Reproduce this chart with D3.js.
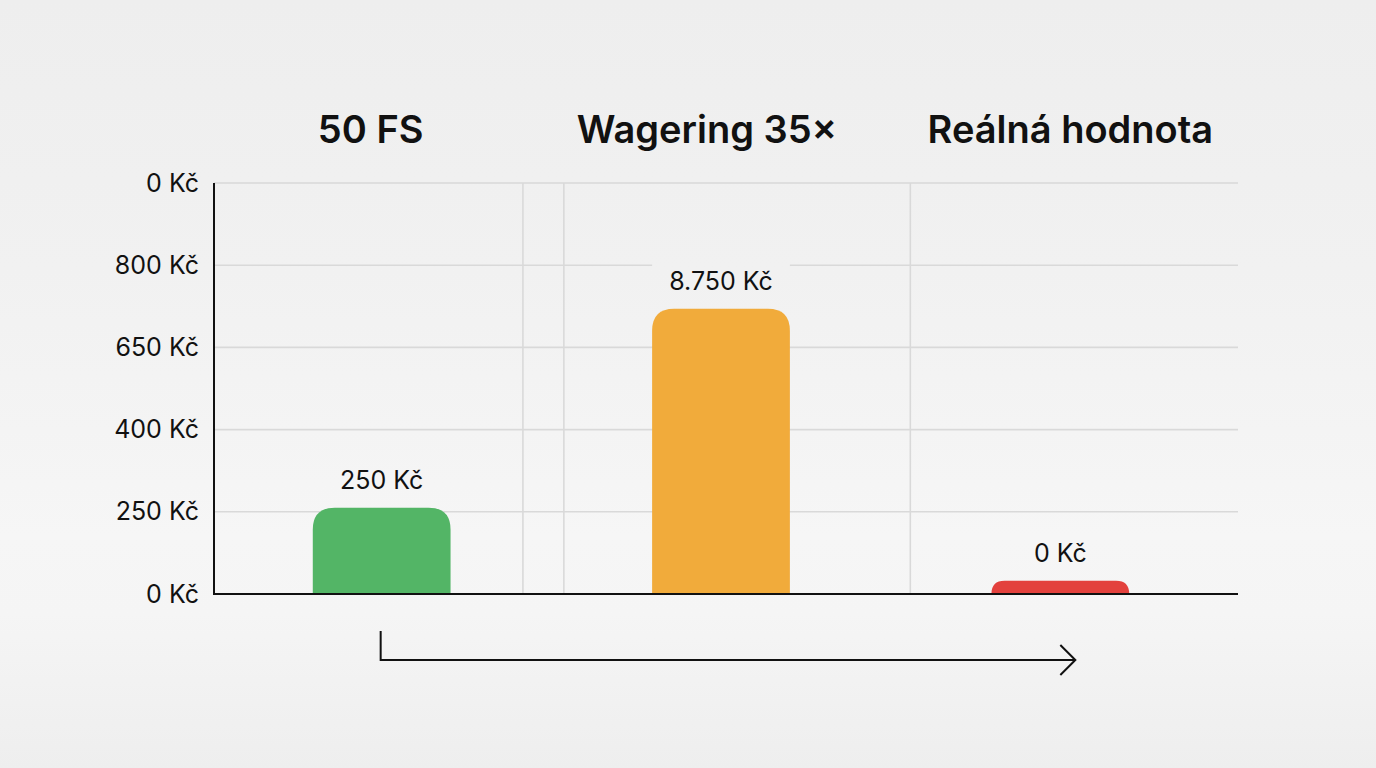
<!DOCTYPE html>
<html><head><meta charset="utf-8">
<script src="https://cdn.jsdelivr.net/npm/d3@7"></script>
<style>html,body{margin:0;padding:0;overflow:hidden;}svg{display:block;}</style>
</head><body>
<svg id="chart" width="1376" height="768"></svg>
<script>
// ---- data ----
const categories = ["50 FS", "Wagering 35×", "Reálná hodnota"];
const barValues = [1.05, 3.47, 0.16];            // bar heights in axis-step units
const barLabels = ["250 Kč", "8.750 Kč", "0 Kč"];
const tickValues = [0, 1, 2, 3, 4, 5];
const tickLabels = ["0 Kč", "250 Kč", "400 Kč", "650 Kč", "800 Kč", "0 Kč"];
const verticalGrid = [0.905, 1.025, 2.04];        // in category-slot units
const barColors = ["#53b566", "#f1ab3b", "#e3413d"];

const W = 1376, H = 768;
const svg = d3.select("#chart");
const m = {left: 214, right: 1238, top: 183, bottom: 594};
const FONT = "Inter, 'Noto Sans', sans-serif";

// background
const defs = svg.append("defs");
const bg = defs.append("linearGradient").attr("id","bg").attr("gradientUnits","userSpaceOnUse")
  .attr("x1",0).attr("y1",0).attr("x2",0).attr("y2",H);
[[0,"#eeeeee"],[0.35,"#f1f1f1"],[0.7,"#f6f6f6"],[0.8,"#f5f5f5"],[1,"#eeeeee"]].forEach(s=>bg.append("stop").attr("offset",s[0]).attr("stop-color",s[1]));
svg.append("rect").attr("width",W).attr("height",H).attr("fill","url(#bg)");

// scales
const y = d3.scaleLinear().domain([0,5]).range([m.bottom, m.top]);
const x = d3.scaleBand().domain(categories).range([212, 1230]).paddingInner(0.594).paddingOuter(0.297);
const xs = d3.scaleLinear().domain([0,3]).range([m.left, m.right]);

// horizontal grid
svg.append("g").selectAll("line").data(tickValues.slice(1)).join("line")
  .attr("x1", m.left).attr("x2", m.right)
  .attr("y1", d=>y(d)).attr("y2", d=>y(d))
  .attr("stroke","#d9d9d9").attr("stroke-width",1.6);
// vertical grid
svg.append("g").selectAll("line").data(verticalGrid).join("line")
  .attr("x1", d=>xs(d)).attr("x2", d=>xs(d))
  .attr("y1", m.top).attr("y2", m.bottom)
  .attr("stroke","#d9d9d9").attr("stroke-width",1.6);

// y axis with custom labels
const yAxis = d3.axisLeft(y).tickValues(tickValues).tickSize(0).tickPadding(15)
  .tickFormat((d,i)=>tickLabels[i]);
const gy = svg.append("g").attr("transform",`translate(${m.left},0)`).call(yAxis);
gy.select(".domain").remove();
gy.selectAll("text").attr("font-family",FONT)
  .attr("font-size",25).attr("fill","#111");

// bars with rounded tops
function topRounded(x0, yTop, w, h, r){
  r = Math.min(r, h, w/2);
  return `M${x0},${yTop+h}V${yTop+r}Q${x0},${yTop} ${x0+r},${yTop}H${x0+w-r}Q${x0+w},${yTop} ${x0+w},${yTop+r}V${yTop+h}Z`;
}
const bars = categories.map((c,i)=>({c, v: barValues[i], label: barLabels[i], color: barColors[i]}));
svg.append("g").selectAll("path").data(bars).join("path")
  .attr("d", d=>topRounded(x(d.c), y(d.v), x.bandwidth(), y(0)-y(d.v), 22))
  .attr("fill", d=>d.color);

// value labels with background knock-out
const lg = svg.append("g").selectAll("g").data(bars).join("g");
lg.append("rect")
  .attr("x", d=>x(d.c)).attr("width", x.bandwidth())
  .attr("y", d=>y(d.v)-46).attr("height", 34)
  .attr("fill","url(#bg)");
lg.append("text")
  .attr("x", d=>x(d.c)+x.bandwidth()/2).attr("y", d=>y(d.v)-19)
  .attr("text-anchor","middle")
  .attr("font-family",FONT).attr("font-size",25).attr("fill","#111")
  .text(d=>d.label);

// axis lines
svg.append("line").attr("x1",m.left).attr("x2",m.left).attr("y1",m.top).attr("y2",m.bottom+1)
  .attr("stroke","#111").attr("stroke-width",2);
svg.append("line").attr("x1",m.left).attr("x2",m.right).attr("y1",m.bottom).attr("y2",m.bottom)
  .attr("stroke","#111").attr("stroke-width",2);

// category titles
svg.append("g").selectAll("text").data(categories).join("text")
  .attr("x", (d,i)=>x(d)+x.bandwidth()/2 + [-11,-14,10][i])
  .attr("y", 143).attr("text-anchor","middle")
  .attr("font-family",FONT).attr("font-size",38).attr("font-weight",600)
  .attr("fill","#111").text(d=>d);

// bottom arrow
const ax0 = x(categories[0]) + x.bandwidth()/2 - 1;
const ax1 = x(categories[2]) + x.bandwidth()/2 + 15;
const ay = 660;
svg.append("path")
  .attr("d", `M${ax0},${ay-29}V${ay}H${ax1}M${ax1-15},${ay-15}L${ax1},${ay}L${ax1-15},${ay+15}`)
  .attr("fill","none").attr("stroke","#111").attr("stroke-width",2);
</script>
</body></html>
